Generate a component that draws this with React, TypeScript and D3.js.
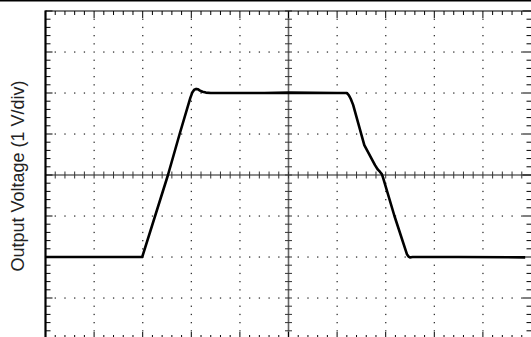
import React from "react";
import * as d3 from "d3";

// Time in divisions (10 div across), voltage in volts (1 V/div, 0 V at centre)
const timeDiv: number[] = [
  0, 1.99, 2.52, 2.76, 2.98, 3.02, 3.06, 3.1, 3.14, 3.18, 3.23, 3.3, 3.4, 4.5, 5.0, 6.0, 6.2,
  6.24, 6.28, 6.33, 6.56, 6.78, 6.84, 6.88, 6.92, 6.95, 7.18, 7.44, 7.47, 7.5, 7.55, 8.5, 9.87,
];
const voltage: number[] = [
  -2, -2, 0, 1, 1.88, 2.01, 2.08, 2.1, 2.09, 2.06, 2.03, 2.01, 2.0, 2.0, 2.01, 2.0, 2.0,
  1.95, 1.86, 1.71, 0.73, 0.24, 0.13, 0.08, 0.02, -0.08, -1.0, -1.94, -1.99, -2.01, -2.0, -2.0, -2.01,
];
const yLabel = "Output Voltage (1 V/div)";
const xDivs = 10;
const yDivs = 8;
const minorPerDiv = 5;

const W = 531;
const H = 337;
const L = 45.5, R = 531.5, T = 11, B = 339;

export default function App() {
  const x = d3.scaleLinear().domain([0, xDivs]).range([L, R]);
  const y = d3.scaleLinear().domain([-yDivs / 2, yDivs / 2]).range([B, T]);

  const xMinor = d3.range(0, xDivs * minorPerDiv + 1).map((i) => i / minorPerDiv);
  const yMinor = d3.range(0, yDivs * minorPerDiv + 1).map((i) => -yDivs / 2 + i / minorPerDiv);
  const xMajor = d3.range(0, xDivs + 1);
  const yMajor = d3.range(-yDivs / 2, yDivs / 2 + 1);

  const line = d3
    .line<number>()
    .x((_, i) => x(timeDiv[i]))
    .y((v) => y(v))
    .curve(d3.curveLinear);

  const isMajor = (v: number) => Math.abs(v - Math.round(v)) < 1e-6;
  const dots: JSX.Element[] = [];
  yMajor.forEach((yv) => {
    if (yv === -yDivs / 2 || yv === yDivs / 2 || yv === 0) return;
    xMinor.forEach((xv, i) => {
      if (xv === 0 || xv === xDivs) return;
      dots.push(
        <rect key={`h${yv}-${i}`} x={x(xv) - 0.6} y={y(yv) - 0.6} width={1.3} height={1.3} fill="#333" />
      );
    });
  });
  xMajor.forEach((xv) => {
    if (xv === 0 || xv === xDivs || xv === xDivs / 2) return;
    yMinor.forEach((yv, i) => {
      if (isMajor(yv)) return;
      dots.push(
        <rect key={`v${xv}-${i}`} x={x(xv) - 0.6} y={y(yv) - 0.6} width={1.3} height={1.3} fill="#333" />
      );
    });
  });

  const ticks: JSX.Element[] = [];
  xMinor.forEach((xv, i) => {
    const maj = isMajor(xv);
    ticks.push(<line key={`tt${i}`} x1={x(xv)} x2={x(xv)} y1={T} y2={T + (maj ? 7 : 4)} stroke="#000" strokeWidth={1} />);
    ticks.push(<line key={`tb${i}`} x1={x(xv)} x2={x(xv)} y1={B} y2={B - (maj ? 7 : 4)} stroke="#000" strokeWidth={1} />);
    ticks.push(<line key={`tc${i}`} x1={x(xv)} x2={x(xv)} y1={y(0) - 3.5} y2={y(0) + 3.5} stroke="#333" strokeWidth={1} />);
  });
  yMinor.forEach((yv, i) => {
    const maj = isMajor(yv);
    ticks.push(<line key={`tl${i}`} x1={L} x2={L + (maj ? 7 : 5)} y1={y(yv)} y2={y(yv)} stroke="#000" strokeWidth={1} />);
    ticks.push(<line key={`tr${i}`} x1={R} x2={R - (maj ? 9 : 5)} y1={y(yv)} y2={y(yv)} stroke="#000" strokeWidth={1} />);
    ticks.push(<line key={`tv${i}`} x1={x(xDivs / 2) - 3.5} x2={x(xDivs / 2) + 3.5} y1={y(yv)} y2={y(yv)} stroke="#333" strokeWidth={1} />);
  });

  return (
    <svg
      width={W}
      height={H}
      style={{ position: "absolute", left: 0, top: 0, background: "#fff" }}
    >
      <rect x={0} y={0} width={W} height={H} fill="#fff" />
      <line x1={0} x2={W} y1={0.75} y2={0.75} stroke="#000" strokeWidth={1.5} />
      {dots}
      <line x1={L} x2={R} y1={y(0)} y2={y(0)} stroke="#666" strokeWidth={1.6} />
      <line x1={x(xDivs / 2)} x2={x(xDivs / 2)} y1={T} y2={B} stroke="#666" strokeWidth={1.6} />
      {ticks}
      <line x1={L} x2={R} y1={T} y2={T} stroke="#000" strokeWidth={1} />
      <line x1={L} x2={R} y1={B} y2={B} stroke="#000" strokeWidth={1} />
      <line x1={L} x2={L} y1={T - 0.5} y2={B} stroke="#000" strokeWidth={2.2} />
      <line x1={R} x2={R} y1={T} y2={B} stroke="#000" strokeWidth={1} />
      <path d={line(voltage) || ""} fill="none" stroke="#000" strokeWidth={2.6} strokeLinejoin="round" strokeLinecap="butt" />
      <text
        transform={`translate(24,${y(0) + 1}) rotate(-90)`}
        textAnchor="middle"
        fontFamily="'Liberation Sans', Arial, sans-serif"
        fontSize={18}
        fill="#222"
      >
        {yLabel}
      </text>
    </svg>
  );
}
